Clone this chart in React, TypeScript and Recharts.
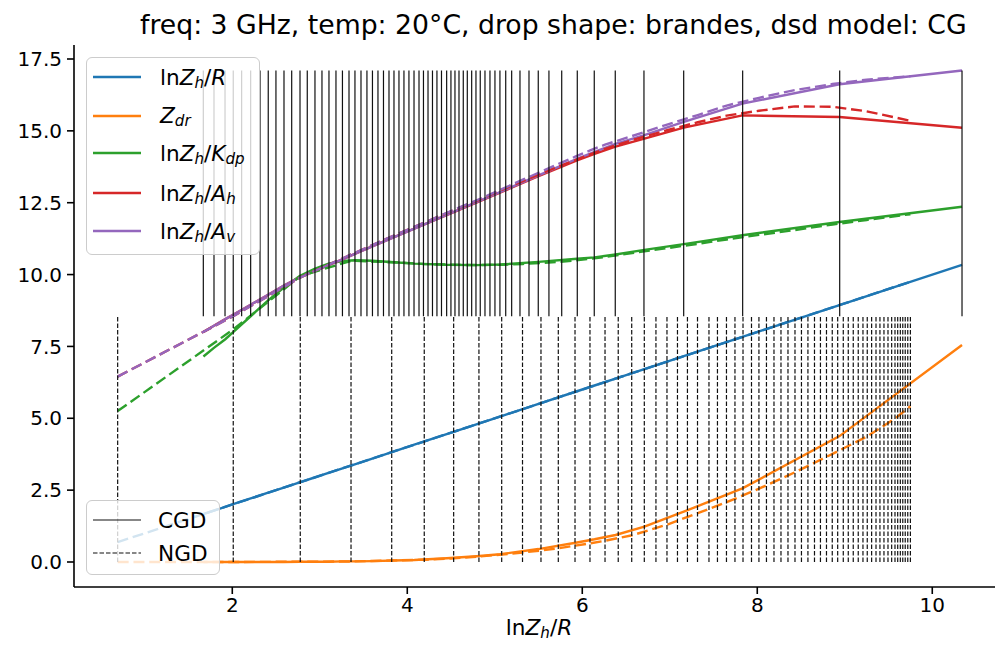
import React from "react";
import { LineChart, Line, XAxis, YAxis, ReferenceLine } from "recharts";

// positions of the vertical marker lines (ln Zh/R)
const cgdX = [
  1.669, 1.791, 1.917, 2.011, 2.107, 2.21, 2.317, 2.411, 2.499, 2.591, 2.679, 2.774, 2.857, 2.945,
  3.025, 3.105, 3.185, 3.259, 3.334, 3.402, 3.471, 3.539, 3.602, 3.665, 3.728, 3.791, 3.848, 3.905,
  3.962, 4.019, 4.077, 4.134, 4.185, 4.237, 4.288, 4.339, 4.391, 4.45, 4.499, 4.545, 4.591, 4.64,
  4.686, 4.736, 4.785, 4.834, 4.888, 4.945, 5.002, 5.059, 5.125, 5.193, 5.288, 5.391, 5.497, 5.619,
  5.765, 5.943, 6.137, 6.377, 6.705, 7.159, 7.833, 8.942, 10.34,
];
const ngdX = [
  0.69, 2.011, 2.777, 3.357, 3.822, 4.194, 4.53, 4.819, 5.079, 5.317, 5.528, 5.726, 5.917, 6.088,
  6.26, 6.411, 6.565, 6.709, 6.842, 6.968, 7.088, 7.202, 7.317, 7.448, 7.545, 7.648, 7.745, 7.837,
  7.934, 8.019, 8.105, 8.191, 8.271, 8.351, 8.431, 8.505, 8.579, 8.654, 8.722, 8.791, 8.857, 8.919,
  8.983, 9.04, 9.097, 9.154, 9.208, 9.257, 9.307, 9.357, 9.402, 9.448, 9.494, 9.536, 9.574, 9.605,
  9.635, 9.663, 9.691, 9.72, 9.75,
];

// curve samples, CGD (solid)
const cgdCurveX = [
  1.67, 1.79, 1.92, 2.01, 2.21, 2.41, 2.59, 2.77, 2.94, 3.1, 3.26, 3.4, 3.6, 3.85, 4.08, 4.45, 4.79,
  5.06, 5.5, 5.94, 6.14, 6.38, 6.71, 7.16, 7.83, 8.94, 10.34,
];
const cgdLnZhR = [
  1.67, 1.79, 1.92, 2.01, 2.21, 2.41, 2.59, 2.77, 2.94, 3.1, 3.26, 3.4, 3.6, 3.85, 4.08, 4.45, 4.79,
  5.06, 5.5, 5.94, 6.14, 6.38, 6.71, 7.16, 7.83, 8.94, 10.34,
];
const cgdZdr = [
  0, 0, 0, 0, 0, 0, 0, 0.01, 0.01, 0.01, 0.02, 0.02, 0.03, 0.05, 0.07, 0.13, 0.2, 0.27, 0.45, 0.68,
  0.79, 0.94, 1.23, 1.75, 2.56, 4.38, 7.55,
];
const cgdLnZhKdp = [
  7.15, 7.45, 7.75, 8.0, 8.55, 9.1, 9.55, 9.95, 10.2, 10.38, 10.47, 10.5, 10.48, 10.43, 10.38,
  10.34, 10.33, 10.35, 10.44, 10.55, 10.6, 10.7, 10.86, 11.06, 11.37, 11.83, 12.36,
];
const cgdLnZhAh = [
  8.0, 8.22, 8.45, 8.6, 8.95, 9.3, 9.62, 9.9, 10.12, 10.33, 10.53, 10.72, 10.98, 11.3, 11.6, 12.07,
  12.5, 12.85, 13.42, 13.97, 14.2, 14.45, 14.73, 15.11, 15.54, 15.48, 15.11,
];
const cgdLnZhAv = [
  8.0, 8.22, 8.45, 8.6, 8.95, 9.3, 9.62, 9.9, 10.12, 10.33, 10.53, 10.72, 10.98, 11.3, 11.6, 12.08,
  12.52, 12.87, 13.45, 14.03, 14.27, 14.55, 14.85, 15.31, 15.95, 16.62, 17.1,
];

// curve samples, NGD (dashed)
const ngdCurveX = [
  0.69, 2.01, 2.78, 3.36, 3.82, 4.19, 4.53, 4.82, 5.08, 5.32, 5.53, 5.73, 5.92, 6.09, 6.26, 6.57,
  6.97, 7.32, 7.65, 8.02, 8.43, 8.86, 9.25, 9.57, 9.75,
];
const ngdLnZhR = [
  0.69, 2.01, 2.78, 3.36, 3.82, 4.19, 4.53, 4.82, 5.08, 5.32, 5.53, 5.73, 5.92, 6.09, 6.26, 6.57,
  6.97, 7.32, 7.65, 8.02, 8.43, 8.86, 9.25, 9.57, 9.75,
];
const ngdZdr = [
  0, 0, 0.01, 0.02, 0.05, 0.08, 0.13, 0.19, 0.26, 0.33, 0.4, 0.48, 0.57, 0.65, 0.74, 0.93, 1.3, 1.7,
  2.08, 2.55, 3.12, 3.76, 4.36, 4.98, 5.42,
];
const ngdLnZhKdp = [
  5.25, 8.09, 9.95, 10.48, 10.43, 10.37, 10.34, 10.33, 10.34, 10.37, 10.4, 10.44, 10.49, 10.55,
  10.61, 10.75, 10.92, 11.07, 11.22, 11.38, 11.55, 11.74, 11.9, 12.03, 12.1,
];
const ngdLnZhAh = [
  6.45, 8.55, 9.9, 10.7, 11.32, 11.8, 12.24, 12.6, 12.95, 13.25, 13.52, 13.76, 13.98, 14.18, 14.37,
  14.68, 15.02, 15.3, 15.53, 15.7, 15.85, 15.84, 15.68, 15.47, 15.35,
];
const ngdLnZhAv = [
  6.45, 8.55, 9.9, 10.7, 11.32, 11.8, 12.25, 12.62, 12.97, 13.3, 13.58, 13.85, 14.1, 14.32, 14.52,
  14.82, 15.22, 15.55, 15.88, 16.15, 16.42, 16.63, 16.78, 16.86, 16.9,
];

const xTicks = [2, 4, 6, 8, 10];
const yTicks = [0, 2.5, 5, 7.5, 10, 12.5, 15, 17.5];

const VLINE_BOTTOM = 0;
const VLINE_MID = 8.55;
const VLINE_TOP = 17.1;

const FONT = '"DejaVu Sans", sans-serif';

const It = ({ children }: { children: React.ReactNode }) => (
  <span style={{ fontStyle: "italic" }}>{children}</span>
);
const Sub = ({ children }: { children: React.ReactNode }) => (
  <span style={{ fontStyle: "italic", fontSize: "0.7em", verticalAlign: "-0.22em", lineHeight: 0 }}>{children}</span>
);

const series = [
  { name: "lnZh/R", color: "#1f77b4", cgd: cgdLnZhR, ngd: ngdLnZhR,
    label: <>ln<It>Z</It><Sub>h</Sub>/<It>R</It></> },
  { name: "Zdr", color: "#ff7f0e", cgd: cgdZdr, ngd: ngdZdr,
    label: <><It>Z</It><Sub>dr</Sub></> },
  { name: "lnZh/Kdp", color: "#2ca02c", cgd: cgdLnZhKdp, ngd: ngdLnZhKdp,
    label: <>ln<It>Z</It><Sub>h</Sub>/<It>K</It><Sub>dp</Sub></> },
  { name: "lnZh/Ah", color: "#d62728", cgd: cgdLnZhAh, ngd: ngdLnZhAh,
    label: <>ln<It>Z</It><Sub>h</Sub>/<It>A</It><Sub>h</Sub></> },
  { name: "lnZh/Av", color: "#9467bd", cgd: cgdLnZhAv, ngd: ngdLnZhAv,
    label: <>ln<It>Z</It><Sub>h</Sub>/<It>A</It><Sub>v</Sub></> },
];

const pts = (xs: number[], ys: number[]) => xs.map((x, i) => ({ x, y: ys[i] }));

const tickStyle = { fill: "#000", fontSize: 20, fontFamily: FONT };

export default function App() {
  const legendRows = [77, 115.5, 153, 193, 231];
  return (
    <div style={{ position: "absolute", left: 0, top: 0, width: 995, height: 648, overflow: "hidden", background: "#fff", fontFamily: FONT }}>
      <LineChart width={995} height={648} margin={{ top: 45, right: 0, bottom: 0, left: 0 }}>
        <XAxis
          dataKey="x"
          type="number"
          domain={[0.191, 10.717]}
          allowDataOverflow
          ticks={xTicks}
          interval={0}
          height={61}
          stroke="#000"
          axisLine={{ strokeWidth: 1.6 }}
          tickLine={{ strokeWidth: 1.6 }}
          tickSize={7}
          tickMargin={4}
          tick={tickStyle}
        />
        <XAxis
          xAxisId="top"
          orientation="top"
          type="number"
          domain={[0.191, 10.717]}
          height={0}
          stroke="#000"
          axisLine={{ strokeWidth: 1.6 }}
          tick={false}
          tickLine={false}
        />
        <YAxis
          type="number"
          domain={[-0.87, 17.987]}
          allowDataOverflow
          ticks={yTicks}
          interval={0}
          width={74}
          stroke="#000"
          axisLine={{ strokeWidth: 1.6 }}
          tickLine={{ strokeWidth: 1.6 }}
          tickSize={7}
          tickMargin={5}
          tick={tickStyle}
          tickFormatter={(v: number) => v.toFixed(1)}
        />
        {series.map((s) => (
          <Line key={s.name + "-cgd"} data={pts(cgdCurveX, s.cgd)} dataKey="y" type="linear"
            stroke={s.color} strokeWidth={2.4} dot={false} isAnimationActive={false} />
        ))}
        {series.map((s) => (
          <Line key={s.name + "-ngd"} data={pts(ngdCurveX, s.ngd)} dataKey="y" type="linear"
            stroke={s.color} strokeWidth={2.4} strokeDasharray="11 4.8" dot={false} isAnimationActive={false} />
        ))}
        {cgdX.map((v, i) => (
          <ReferenceLine key={"c" + i} segment={[{ x: v, y: VLINE_MID }, { x: v, y: VLINE_TOP }]}
            stroke="#111" strokeWidth={1.2} />
        ))}
        {ngdX.map((v, i) => (
          <ReferenceLine key={"n" + i} segment={[{ x: v, y: VLINE_BOTTOM }, { x: v, y: VLINE_MID }]}
            stroke="#111" strokeWidth={1.2} strokeDasharray="4.5 2" />
        ))}
      </LineChart>

      <div style={{ position: "absolute", left: 140, top: 9, fontSize: 26.7, whiteSpace: "nowrap", color: "#000" }}>
        freq: 3 GHz, temp: 20°C, drop shape: brandes, dsd model: CG
      </div>

      <div style={{ position: "absolute", left: 539, top: 615, transform: "translateX(-50%)", fontSize: 21.6, whiteSpace: "nowrap", color: "#000" }}>
        ln<It>Z</It><Sub>h</Sub>/<It>R</It>
      </div>

      <div style={{ position: "absolute", left: 86, top: 57, width: 174, height: 198, boxSizing: "border-box",
        border: "1.6px solid #cccccc", borderRadius: 6, background: "rgba(255,255,255,0.8)" }} />
      {series.map((s, i) => (
        <div key={s.name} style={{ position: "absolute", left: 93, top: legendRows[i] - 15, height: 30,
          display: "flex", alignItems: "center", fontSize: 21.6, whiteSpace: "nowrap", color: "#000" }}>
          <svg width={48} height={6} style={{ display: "block" }}>
            <line x1={0} y1={3} x2={48} y2={3} stroke={s.color} strokeWidth={2.4} />
          </svg>
          <span style={{ marginLeft: 19 }}>{s.label}</span>
        </div>
      ))}

      <div style={{ position: "absolute", left: 86, top: 500, width: 134, height: 75, boxSizing: "border-box",
        border: "1.6px solid #cccccc", borderRadius: 6, background: "rgba(255,255,255,0.8)" }} />
      {[
        { t: "CGD", y: 520, dash: undefined },
        { t: "NGD", y: 553, dash: "4.5 2" },
      ].map((r) => (
        <div key={r.t} style={{ position: "absolute", left: 93, top: r.y - 15, height: 30,
          display: "flex", alignItems: "center", fontSize: 21.6, whiteSpace: "nowrap", color: "#000" }}>
          <svg width={48} height={4} style={{ display: "block" }}>
            <line x1={0} y1={2} x2={48} y2={2} stroke="#111" strokeWidth={1.2} strokeDasharray={r.dash} />
          </svg>
          <span style={{ marginLeft: 17 }}>{r.t}</span>
        </div>
      ))}
    </div>
  );
}
